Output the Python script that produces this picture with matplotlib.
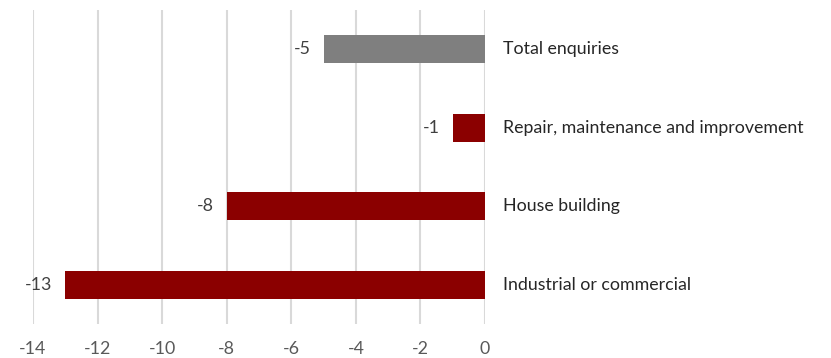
import matplotlib
matplotlib.use("Agg")
import matplotlib.pyplot as plt

categories = ["Total enquiries", "Repair, maintenance and improvement",
              "House building", "Industrial or commercial"]
values = [-5, -1, -8, -13]
colors = ["#7f7f7f", "#8b0000", "#8b0000", "#8b0000"]
xticks = [-14, -12, -10, -8, -6, -4, -2, 0]

plt.rcParams["font.family"] = ["Lato", "DejaVu Sans"]
fs = 12.8

fig = plt.figure(figsize=(8.31, 3.58), dpi=100)
ax = fig.add_axes([33 / 831, 34 / 358, (485 - 33) / 831, 314 / 358])

pos = list(range(len(categories)))
ax.barh(pos, values, height=0.36, color=colors, zorder=3)

for y, v, name in zip(pos, values, categories):
    ax.text(v - 0.4, y, f"{v}", ha="right", va="center",
            fontsize=fs, color="#404040")
    ax.text(0.55, y, name, ha="left", va="center",
            fontsize=fs, color="#262626", clip_on=False)

ax.set_xlim(-14, 0)
ax.set_ylim(len(categories) - 0.5, -0.5)
ax.set_xticks(xticks)
ax.set_xticklabels([str(t) for t in xticks], fontsize=fs, color="#595959")
ax.set_yticks([])
ax.tick_params(axis="x", length=0, pad=12)
ax.grid(axis="x", color="#d9d9d9", linewidth=1.5, zorder=0)
for s in ax.spines.values():
    s.set_visible(False)

fig.savefig("out.png", dpi=100)
